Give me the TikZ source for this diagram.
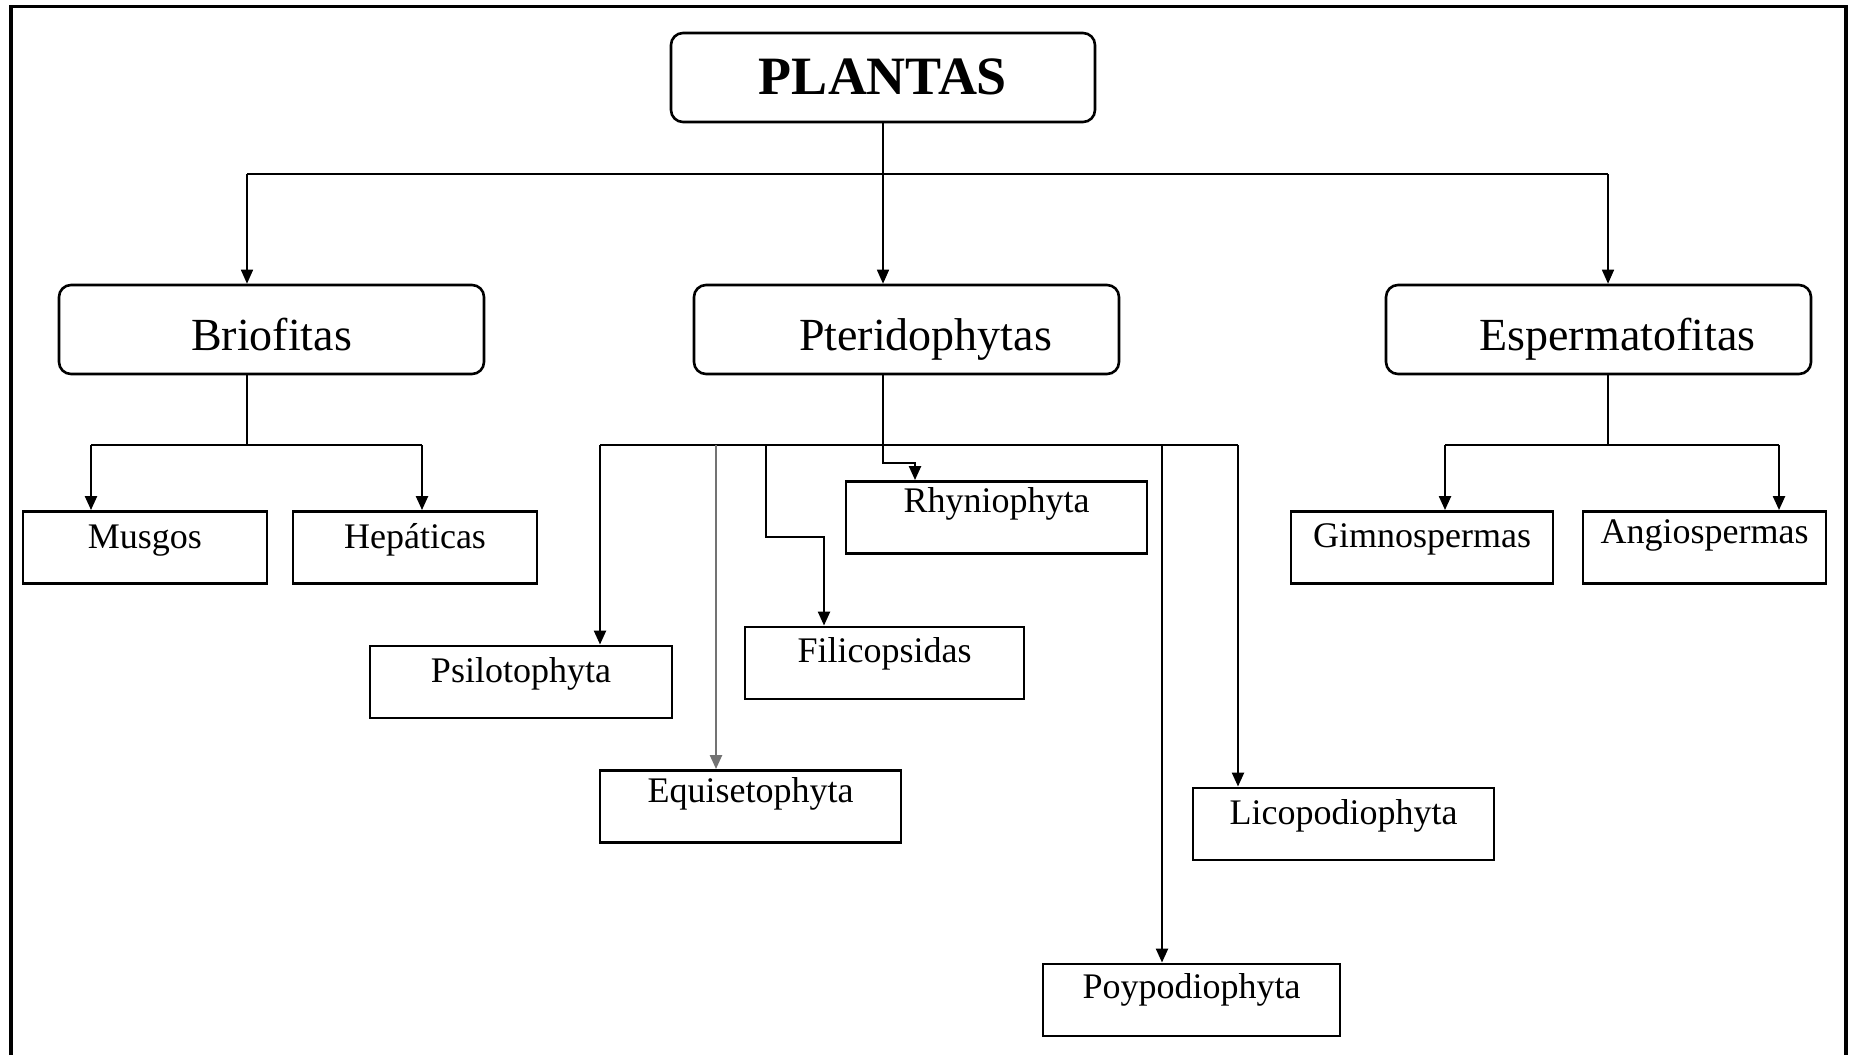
\documentclass[tikz,border=0pt]{standalone}
\usepackage{fontspec}
\setmainfont{Liberation Serif}
\usetikzlibrary{arrows.meta}
\tikzset{
    topbox/.style={draw, line width=1.3pt, rounded corners=6pt, inner sep=0pt, minimum width=212pt, text height=30.5pt, text depth=14pt, font=\bfseries\fontsize{27}{30}\selectfont},
    groupbox/.style={draw, line width=1.3pt, rounded corners=6pt, inner sep=0pt, minimum width=212.5pt, text height=32.5pt, text depth=12pt, font=\fontsize{23}{26}\selectfont},
    leaf/.style={draw, line width=1.45pt, inner sep=0pt, text height=#1, text depth=36pt-#1, font=\fontsize{18}{20}\selectfont},
    leaf/.default=17.5pt,
    link/.style={line width=1.15pt},
    arrowlink/.style={link, -{Triangle[width=6pt,length=7pt]}}
}
\begin{document}
\begin{tikzpicture}[x=0.5pt, y=-0.5pt]
    \useasboundingbox (0,0) rectangle (1856,1055);
    \draw[line width=1.7pt] (11,1055) -- (11,6.5) -- (1846,6.5) -- (1846,1055);

    \node[topbox] (plantas) at (883,77.5) {PLANTAS};
    \node[groupbox] (brio) at (271.5,329.5) {Briofitas};
    \node[groupbox] (pteri) at (906.5,329.5) {\hspace*{19pt}Pteridophytas};
    \node[groupbox] (esper) at (1598.5,329.5) {\hspace*{19pt}Espermatofitas};

    \node[leaf=18.5pt, minimum width=122pt] (musgos) at (145,547.5) {Musgos};
    \node[leaf=18.5pt, minimum width=122pt] (hepat) at (415,547.5) {Hepáticas};
    \node[leaf=18pt, minimum width=131pt] (gimno) at (1422,547.5) {Gimnospermas};
    \node[leaf=16pt, minimum width=121.5pt] (angio) at (1704.5,547.5) {Angiospermas};
    \node[leaf=15.5pt, minimum width=150.5pt] (rhynio) at (996.5,517.5) {Rhyniophyta};
    \node[leaf=18pt, minimum width=151pt] (psilo) at (521,682) {Psilotophyta};
    \node[leaf=17.5pt, minimum width=139.5pt] (filic) at (884.5,663) {Filicopsidas};
    \node[leaf=16pt, minimum width=150.5pt] (equis) at (750.5,806.5) {Equisetophyta};
    \node[leaf=18pt, minimum width=150.5pt] (lico) at (1343.5,824) {Licopodiophyta};
    \node[leaf=17pt, minimum width=148.5pt] (poypo) at (1191.5,1000) {Poypodiophyta};

    \coordinate (busL) at (247,174);
    \coordinate (busR) at (1608,174);
    \draw[link, line width=1.3pt] (busL) -- (busR);
    \draw[link, line width=0.8pt] (plantas.south) -- (plantas.south |- busL);
    \draw[arrowlink, line width=0.8pt] (busL) -- (busL |- brio.north);
    \draw[arrowlink, line width=0.8pt] (plantas.south |- busL) -- (plantas.south |- pteri.north);
    \draw[arrowlink, line width=0.8pt] (busR) -- (busR |- esper.north);

    \coordinate (bbusL) at (91,445);
    \coordinate (bbusR) at (422,445);
    \draw[link] (busL |- brio.south) -- (busL |- bbusL);
    \draw[link] (bbusL) -- (bbusR);
    \draw[arrowlink] (bbusL) -- (bbusL |- musgos.north);
    \draw[arrowlink] (bbusR) -- (bbusR |- hepat.north);

    \coordinate (ebusL) at (1445,445);
    \coordinate (ebusR) at (1779,445);
    \draw[link] (busR |- esper.south) -- (busR |- ebusL);
    \draw[link] (ebusL) -- (ebusR);
    \draw[arrowlink] (ebusL) -- (ebusL |- gimno.north);
    \draw[arrowlink] (ebusR) -- (ebusR |- angio.north);

    \coordinate (pbusL) at (600,445);
    \coordinate (pbusR) at (1238,445);
    \coordinate (rhynArr) at (915,463);
    \coordinate (equisTop) at (716,445);
    \coordinate (filicTop) at (766,445);
    \coordinate (filicBend) at (824,537);
    \coordinate (poypoTop) at (1162,445);
    \draw[link] (pbusL) -- (pbusR);
    \draw[arrowlink] (plantas.south |- pteri.south) |- (rhynArr) -- (rhynArr |- rhynio.north);
    \draw[arrowlink] (pbusL) -- (pbusL |- psilo.north);
    \draw[arrowlink, black!55] (equisTop) -- (equisTop |- equis.north);
    \draw[arrowlink] (filicTop) |- (filicBend) -- (filicBend |- filic.north);
    \draw[arrowlink] (poypoTop) -- (poypoTop |- poypo.north);
    \draw[arrowlink] (pbusR) -- (pbusR |- lico.north);
\end{tikzpicture}
\end{document}
